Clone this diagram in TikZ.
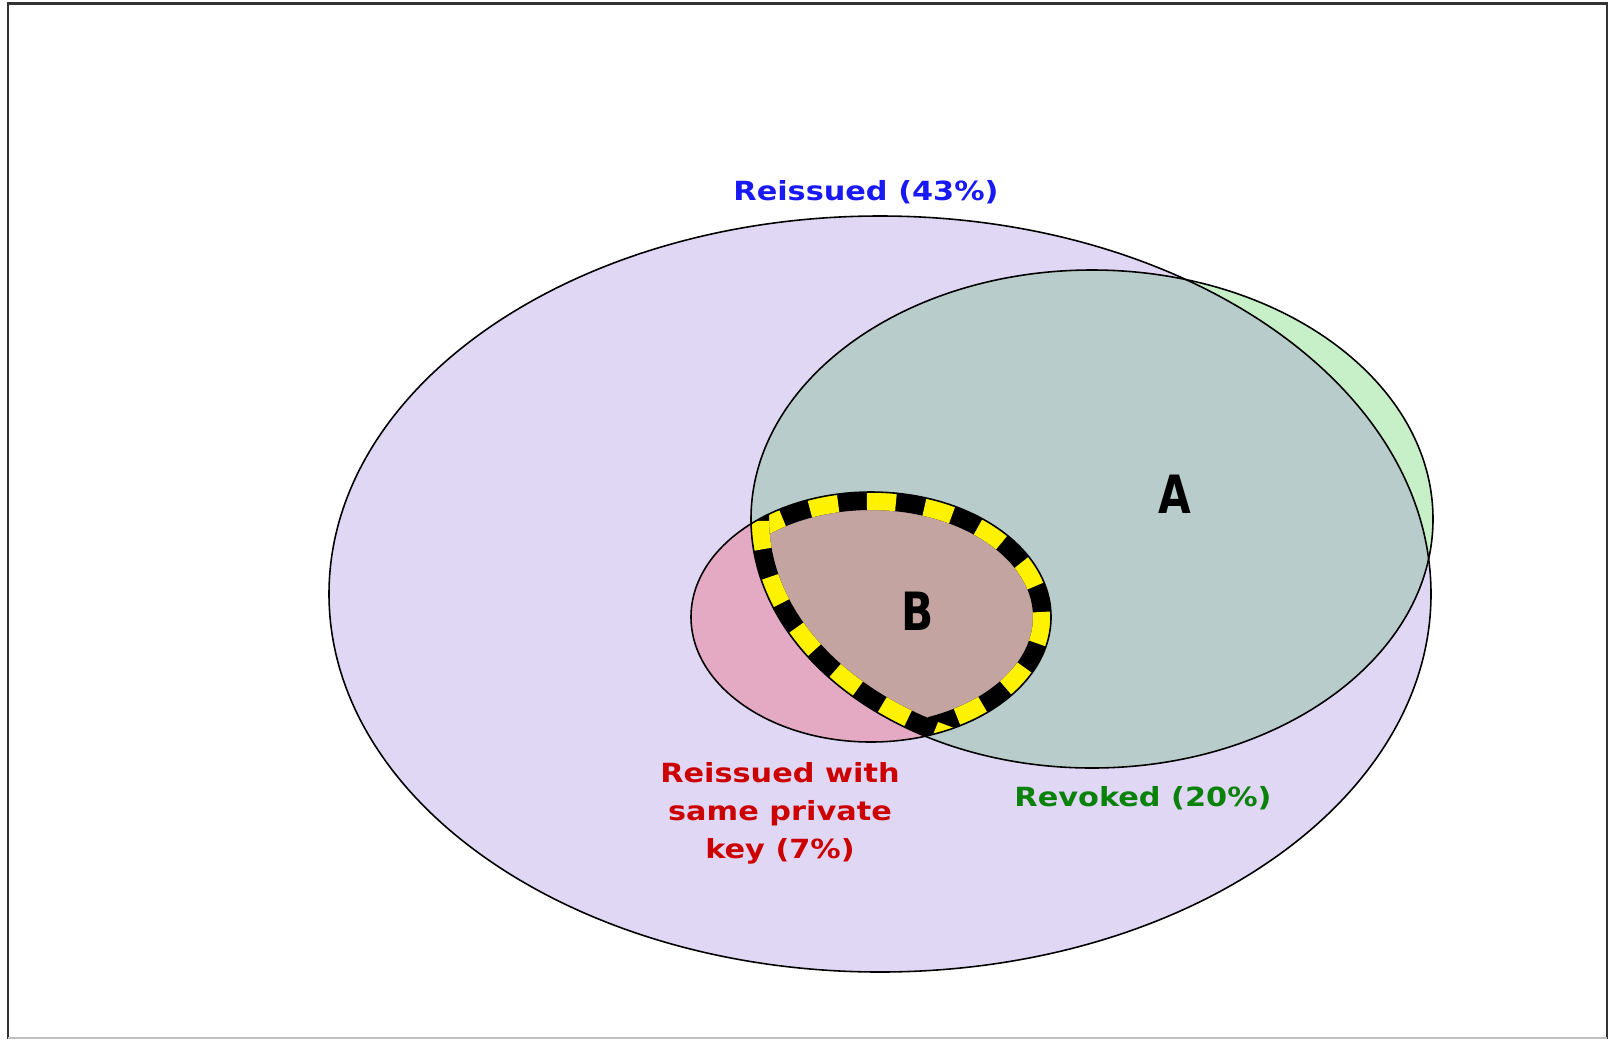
\documentclass[tikz,border=0pt]{standalone}
\usepackage{fontspec}
\usepackage{tikz}
\usetikzlibrary{positioning}
\newfontfamily\labelfont{DejaVu Sans}[FakeStretch=1.15]
\newfontfamily\setfont{DejaVu Sans}[FakeStretch=0.8]
\definecolor{lavender}{RGB}{224,215,245}
\definecolor{mintgreen}{RGB}{200,240,200}
\definecolor{tealgray}{RGB}{184,205,203}
\definecolor{rosepink}{RGB}{228,170,196}
\definecolor{mauve}{RGB}{196,164,160}
\definecolor{labelblue}{RGB}{25,25,245}
\definecolor{labelred}{RGB}{205,0,0}
\definecolor{labelgreen}{RGB}{10,130,10}
\tikzset{
  setlabel/.style={font=\labelfont\bfseries\fontsize{7.5}{10.8}\selectfont, align=center},
  regionlabel/.style={font=\setfont\bfseries\fontsize{15}{15}\selectfont},
  outline/.style={draw=black, line width=0.45pt},
  stripeback/.style={line width=0.36cm, black},
  stripefront/.style={line width=0.36cm, yellow, dash pattern=on 0.3cm off 0.3cm}
}

\begin{document}
\begin{tikzpicture}[x=0.01cm, y=-0.01cm]
    \useasboundingbox (0,0) rectangle (1615,1039);
    \fill[white] (0,0) rectangle (1615,1039);

    % centres of the three sets
    \coordinate (reissued) at (880,594);
    \coordinate (revoked) at (1092,519);
    \coordinate (samekey) at (871,617);

    % Reissued
    \fill[lavender] (reissued) ellipse [x radius=551, y radius=378];
    % Revoked
    \fill[mintgreen] (revoked) ellipse [x radius=341, y radius=249];
    \begin{scope}
        \clip (reissued) ellipse [x radius=551, y radius=378];
        \fill[tealgray] (revoked) ellipse [x radius=341, y radius=249];
    \end{scope}
    % Reissued with same key
    \fill[rosepink] (samekey) ellipse [x radius=180, y radius=125];
    \begin{scope}
        \clip (samekey) ellipse [x radius=180, y radius=125];
        \fill[mauve] (revoked) ellipse [x radius=341, y radius=249];
    \end{scope}

    % striped border of B
    \begin{scope}
        \clip (samekey) ellipse [x radius=180, y radius=125];
        \clip (revoked) ellipse [x radius=341, y radius=249];
        \draw[stripeback] (samekey) ellipse [x radius=180, y radius=125];
        \draw[stripefront] (samekey) ellipse [x radius=180, y radius=125];
        \draw[stripeback] (revoked) ellipse [x radius=341, y radius=249];
        \draw[stripefront] (revoked) ellipse [x radius=341, y radius=249];
    \end{scope}

    \draw[outline] (reissued) ellipse [x radius=551, y radius=378];
    \draw[outline] (revoked) ellipse [x radius=341, y radius=249];
    \draw[outline] (samekey) ellipse [x radius=180, y radius=125];

    % frame
    \draw[line width=0.6pt, black!80] (8,1039) |- (1607,3.5) -- (1607,1039);
    \draw[line width=0.5pt, black!25] (8,1038) -- (1607,1038);

    \node[setlabel, labelblue] (reissuedlabel) at (866,192) {Reissued (43\%)};
    \node[setlabel, labelred] (samekeylabel) at (780,813) {Reissued with\\same private\\key (7\%)};
    \node[setlabel, labelgreen] (revokedlabel) at (1143,798) {Revoked (20\%)};
    \node[regionlabel] (labelA) at (1175,494) {A};
    \node[regionlabel] (labelB) at (918,611) {B};
\end{tikzpicture}
\end{document}
